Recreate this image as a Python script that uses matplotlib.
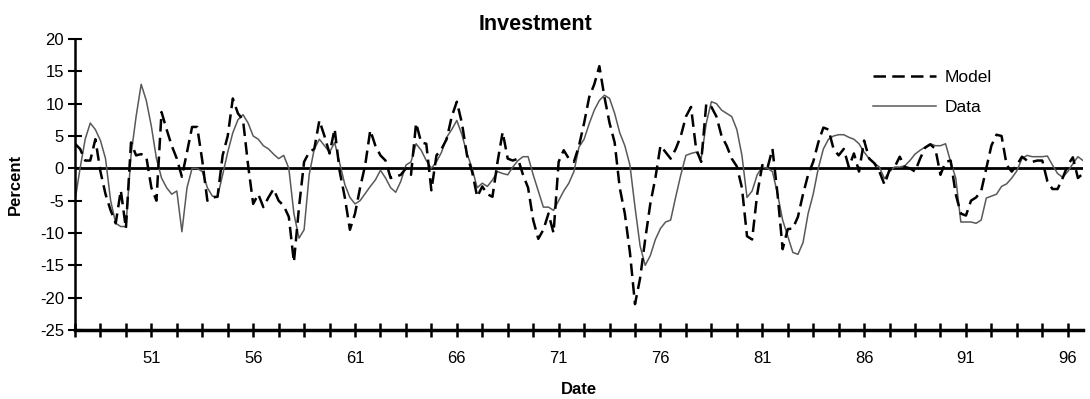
import numpy as np
import matplotlib
matplotlib.use("Agg")
import matplotlib.pyplot as plt

plt.rcParams['font.family'] = ['Liberation Sans', 'DejaVu Sans']
plt.rcParams['axes.unicode_minus'] = False

# quarterly series, first quarter is 1947:2
model = [3.8, 3.0, 1.2, 1.2, 4.5, -0.5, -4.0, -6.5, -8.5, -3.4,
         -9.3, 4.0, 2.0, 2.2, 1.8, -3.0, -5.0, 8.7, 6.0, 3.5,
         1.5, -1.3, 2.5, 6.4, 6.4, 1.2, -5.0, -4.5, -4.4, 2.0,
         5.0, 10.8, 8.5, 7.5, 0.5, -5.5, -4.0, -6.0, -4.5, -3.2,
         -5.0, -5.8, -7.5, -14.5, -6.0, 1.0, 2.5, 3.0, 7.4, 5.0,
         2.3, 6.1, -0.5, -4.5, -9.5, -7.0, -3.0, 0.5, 5.9, 3.5,
         2.0, 1.2, -1.5, -1.3, -1.0, 0.0, -1.0, 7.0, 4.0, 3.8,
         -3.4, 2.0, 3.0, 4.5, 8.0, 10.3, 7.0, 2.0, -0.5, -4.4,
         -2.8, -4.0, -4.4, 1.0, 5.6, 1.5, 1.2, 1.5, -1.0, -3.0,
         -8.0, -10.9, -9.5, -7.0, -10.0, 1.0, 2.8, 1.5, 1.0, 3.5,
         7.0, 11.0, 13.0, 15.8, 11.0, 7.0, 4.0, -3.0, -7.0, -13.0,
         -21.0, -17.0, -11.0, -5.5, -1.5, 3.5, 2.5, 1.5, 3.0, 5.0,
         8.0, 9.5, 3.0, 1.0, 10.0, 9.5, 8.0, 5.0, 3.5, 1.5,
         0.3, -3.0, -10.5, -11.0, -4.0, 0.5, 0.0, 3.0, -4.0, -12.5,
         -9.4, -9.3, -7.5, -4.0, -1.0, 1.0, 4.0, 6.3, 6.0, 3.0,
         2.0, 3.0, 0.2, 2.3, -0.5, 4.3, 1.5, 0.8, -0.5, -2.5,
         -0.2, 0.2, 1.8, 0.2, 0.0, -0.5, 1.5, 3.2, 3.7, 3.0,
         -1.0, 1.0, 1.2, -4.0, -7.0, -7.3, -5.0, -4.5, -3.5, 0.0,
         3.5, 5.2, 5.0, 0.5, -0.5, 0.5, 1.8, 1.2, 1.0, 1.2,
         1.2, -2.0, -3.2, -3.2, -1.5, 0.5, 1.7, -1.5, -0.8]

data = [-5.0, 0.0, 4.5, 7.0, 6.0, 4.3, 1.5, -5.0, -8.5, -9.0,
        -9.0, 2.0, 8.0, 13.0, 10.5, 6.5, 1.5, -1.5, -3.0, -4.0,
        -3.5, -9.8, -3.0, 0.0, 0.0, -0.5, -3.0, -4.3, -4.4, -1.0,
        2.5, 5.5, 7.5, 8.3, 7.0, 5.0, 4.5, 3.5, 3.0, 2.2,
        1.5, 2.0, 0.0, -7.0, -10.8, -9.5, -1.0, 3.0, 4.5, 3.5,
        2.5, 4.0, 0.8, -2.5, -4.5, -5.5, -5.0, -3.9, -2.8, -1.8,
        -0.3, -1.5, -3.0, -3.7, -2.0, 0.5, 1.0, 3.8, 2.8, 1.2,
        0.0, 1.0, 2.5, 4.8, 6.0, 7.4, 5.2, 2.3, 0.0, -3.0,
        -2.3, -2.8, -1.8, -0.5, -0.8, -1.0, 0.2, 1.2, 1.8, 1.8,
        -1.0, -3.5, -6.0, -6.0, -6.5, -5.0, -3.5, -2.3, -0.5, 3.3,
        4.5, 6.9, 9.0, 10.5, 11.3, 10.8, 8.5, 5.5, 3.5, 0.5,
        -6.0, -12.0, -15.0, -13.5, -11.0, -9.3, -8.3, -8.0, -4.4, -1.0,
        2.0, 2.3, 2.5, 1.5, 7.0, 10.3, 10.0, 9.0, 8.5, 8.0,
        6.0, 2.0, -4.5, -3.5, -1.0, 0.2, 0.0, -0.5, -4.0, -8.0,
        -10.5, -13.0, -13.3, -11.5, -7.0, -4.0, 0.0, 3.0, 4.5, 5.0,
        5.2, 5.2, 4.8, 4.5, 3.8, 2.5, 1.5, 0.8, 0.2, -1.6,
        -0.5, 0.2, 0.2, 0.4, 1.2, 2.2, 2.8, 3.3, 3.8, 3.5,
        3.5, 3.8, 1.0, -1.5, -8.3, -8.3, -8.3, -8.5, -8.0, -4.6,
        -4.3, -4.0, -2.8, -2.4, -1.5, -0.4, 1.5, 2.0, 1.8, 1.8,
        1.8, 1.9, 0.5, -0.8, -1.4, -0.5, 0.7, 1.8, 1.2]

label_years = [1951, 1956, 1961, 1966, 1971, 1976, 1981, 1986, 1991, 1996]
tick_labels = ['51', '56', '61', '66', '71', '76', '81', '86', '91', '96']
y_ticks = [-25, -20, -15, -10, -5, 0, 5, 10, 15, 20]

start = 1947.25
dates = start + 0.25 * np.arange(len(data))

fig = plt.figure(figsize=(10.9, 3.99), dpi=100)
ax = fig.add_axes([0.0688, 0.1729, 0.9248, 0.7294])

ax.axhline(0, color='black', lw=2.0, zorder=1)
ax.plot(dates, model, color='black', lw=1.8, dashes=(5, 2.5), label='Model', zorder=3)
ax.plot(dates, data, color='0.35', lw=1.1, label='Data', zorder=2)

ax.set_xlim(dates[0], dates[-1])
ax.set_ylim(-25, 20)
ax.set_yticks(y_ticks)
ax.set_yticklabels([str(v) for v in y_ticks])

# ticks every five quarters, labels every five years
all_ticks = start + 1.25 * np.arange(40)
minor = [t for t in all_ticks if not np.isclose(t, label_years).any()]
ax.set_xticks(label_years)
ax.set_xticklabels(tick_labels)
ax.set_xticks(minor, minor=True)

for side in ['top', 'right']:
    ax.spines[side].set_visible(False)
ax.spines['left'].set_linewidth(1.8)
ax.spines['bottom'].set_linewidth(2.5)

ax.tick_params(axis='y', direction='inout', length=10, width=1.5, labelsize=12, pad=3)
ax.tick_params(axis='x', which='both', direction='inout', length=10, width=1.8,
               labelsize=12, pad=10)

ax.set_ylabel('Percent', fontsize=12, fontweight='bold')
ax.yaxis.set_label_coords(-0.052, 0.5)
ax.set_xlabel('Date', fontsize=12, fontweight='bold')
ax.xaxis.set_label_coords(0.5, -0.18)

fig.text(535 / 1090, 1 - 24 / 399, 'Investment', ha='center', va='center',
         fontsize=15.5, fontweight='bold')

leg = ax.legend(loc='upper left', bbox_to_anchor=(0.7917, 0.895), frameon=False,
                fontsize=12.5, handlelength=3.6, handletextpad=0.55,
                labelspacing=0.9, borderpad=0, borderaxespad=0)

fig.savefig('out.png', dpi=100)
